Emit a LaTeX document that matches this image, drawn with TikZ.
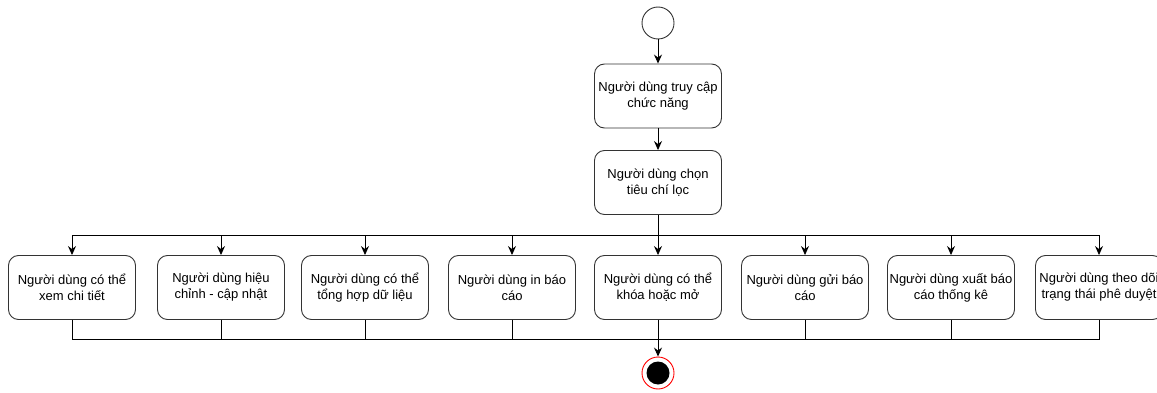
\documentclass[tikz,border=0pt]{standalone}
\usepackage{fontspec}
\setmainfont{Liberation Sans}
\usetikzlibrary{arrows.meta}

\begin{document}
\begin{tikzpicture}[x=1pt,y=-1pt,>={Stealth[length=9pt,width=8pt,inset=3pt]},line width=0.9pt,
  act/.style={draw=black!80,rounded corners=10pt,minimum width=127pt,minimum height=64pt,
    align=center,inner sep=1pt,font=\fontsize{13}{16}\selectfont}]
\useasboundingbox (0,0) rectangle (1157,393);
\node[draw=black!80,circle,minimum size=32pt,inner sep=0pt] (batdau) at (658,23) {};
\node[act] (truycap) at (658,96) {Người dùng truy cập\\chức năng};
\node[act] (chonloc) at (658,182.5) {Người dùng chọn\\tiêu chí lọc};
\coordinate (tach) at (658,235);
\coordinate (gop) at (658,339);
\draw[->] (batdau) -- (truycap);
\draw[->] (truycap) -- (chonloc);
\draw (chonloc) -- (tach);
% cac chuc nang
\foreach \ten/\xx/\chu in {xem/72/{Người dùng có thể\\xem chi tiết},
    hieuchinh/221/{Người dùng hiệu\\chỉnh - cập nhật},
    tonghop/365/{Người dùng có thể\\tổng hợp dữ liệu},
    inbc/512/{Người dùng in báo\\cáo},
    khoa/658/{Người dùng có thể\\khóa hoặc mở},
    gui/805/{Người dùng gửi báo\\cáo},
    xuat/951/{Người dùng xuất báo\\cáo thống kê},
    theodoi/1099/{Người dùng theo dõi\\trạng thái phê duyệt}}{
  \node[act] (\ten) at (\xx,287.5) {\chu};
  \draw[->] (tach) -| (\ten.north);
  \draw (\ten.south) |- (gop);
}
\node[draw=red,circle,minimum size=32pt,inner sep=0pt] (ketthuc) at (658,373) {};
\fill (ketthuc.center) circle (11.5pt);
\draw[->] (khoa) -- (ketthuc);
\end{tikzpicture}
\end{document}
